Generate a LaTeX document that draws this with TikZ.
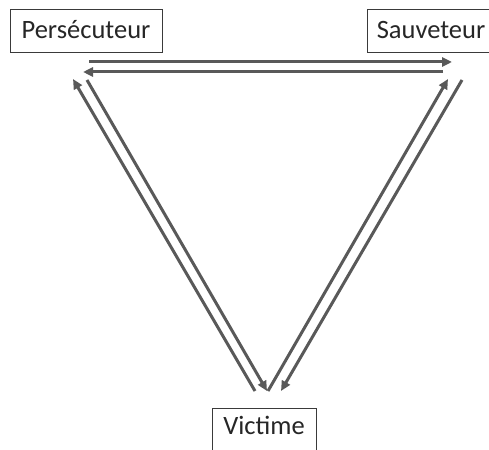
\documentclass[tikz,border=0pt]{standalone}
\usepackage{fontspec}
\setmainfont{Carlito}
\usetikzlibrary{arrows.meta}
\definecolor{arrowgray}{HTML}{595959}
\definecolor{boxgray}{HTML}{3A3A3A}
\tikzset{
  rolebox/.style={draw=boxgray, line width=1pt, fill=white, inner sep=0pt,
    minimum height=43pt, text height=15pt, text depth=0pt,
    font=\fontsize{26.5}{30}\selectfont, text=black!85},
  conn/.style={draw=arrowgray, line width=3pt,
    -{Triangle[length=10pt,width=9pt]}}
}
\begin{document}
\begin{tikzpicture}[x=1pt,y=-1pt]
\useasboundingbox (0,0) rectangle (489,449);
\node[rolebox, minimum width=152pt] (pers) at (86,31.5) {Persécuteur};
\node[rolebox, minimum width=128pt] (sauv) at (431,31.5) {Sauveteur};
\node[rolebox, minimum width=104pt, minimum height=52pt, text depth=15pt] (vict) at (264,434) {Victime};
% top pair
\coordinate (t1s) at (89,62);  \coordinate (t1e) at (452,62);
\coordinate (t2s) at (443,72); \coordinate (t2e) at (83,72);
% left pair
\coordinate (l1s) at (255,391); \coordinate (l1e) at (73,79);
\coordinate (l2s) at (87,80);   \coordinate (l2e) at (267,391);
% right pair
\coordinate (r1s) at (462,80);  \coordinate (r1e) at (281,391);
\coordinate (r2s) at (268,391); \coordinate (r2e) at (448,79);
\draw[conn] (t1s) -- (t1e);
\draw[conn] (t2s) -- (t2e);
\draw[conn] (l1s) -- (l1e);
\draw[conn] (l2s) -- (l2e);
\draw[conn] (r1s) -- (r1e);
\draw[conn] (r2s) -- (r2e);
\end{tikzpicture}
\end{document}
